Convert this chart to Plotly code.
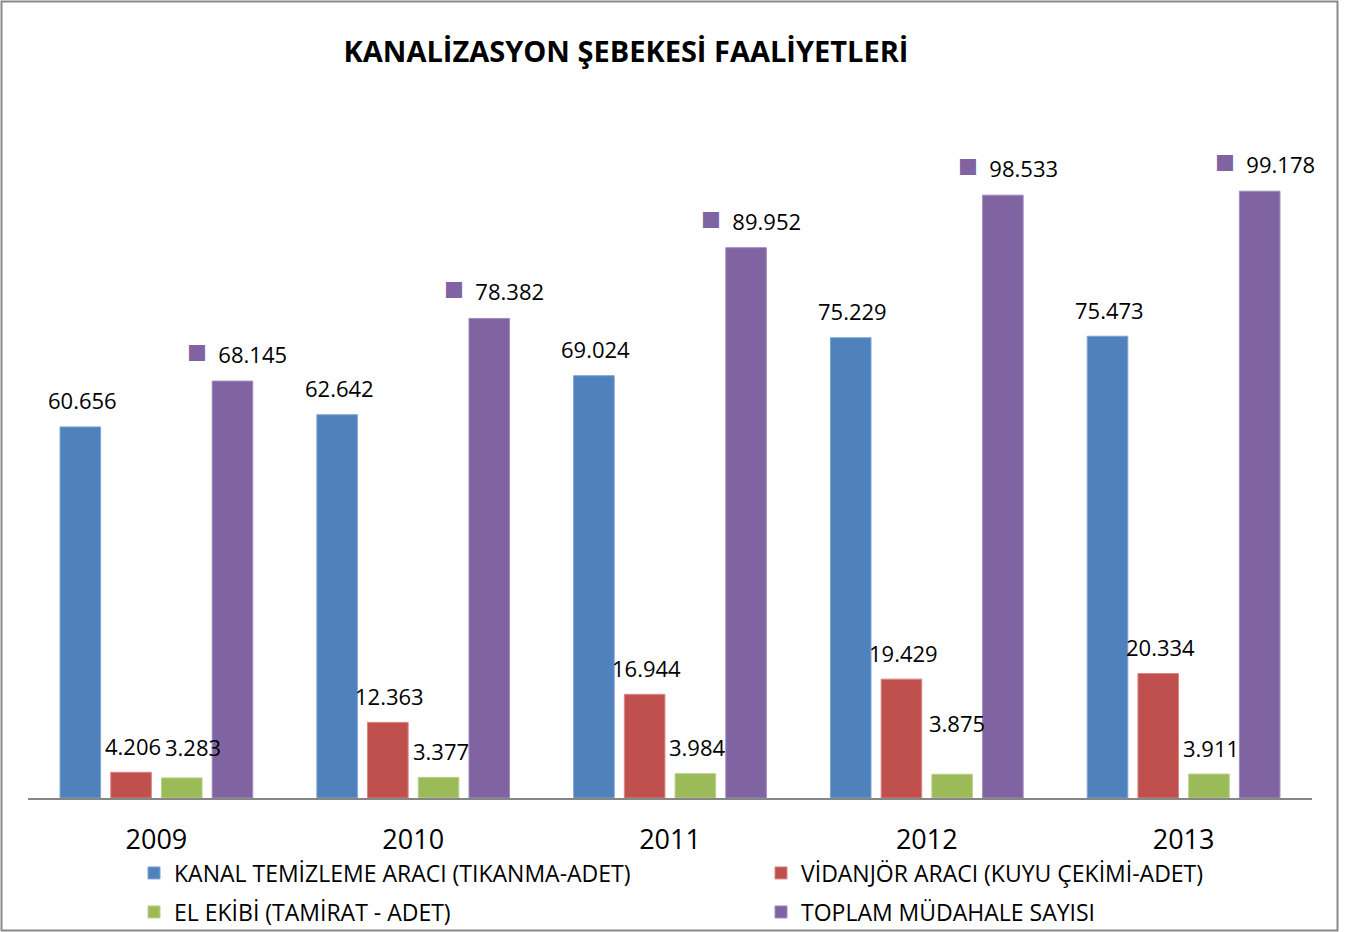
import plotly.graph_objects as go

# ---- data ----
years = ["2009", "2010", "2011", "2012", "2013"]
kanal = [60656, 62642, 69024, 75229, 75473]
vidanjor = [4206, 12363, 16944, 19429, 20334]
el_ekibi = [3283, 3377, 3984, 3875, 3911]
toplam = [68145, 78382, 89952, 98533, 99178]

series_names = [
    "KANAL TEMİZLEME ARACI (TIKANMA-ADET)",
    "VİDANJÖR ARACI (KUYU ÇEKİMİ-ADET)",
    "EL EKİBİ (TAMİRAT - ADET)",
    "TOPLAM MÜDAHALE SAYISI",
]
series_values = [kanal, vidanjor, el_ekibi, toplam]
colors = ["#4F81BD", "#C0504D", "#9BBB59", "#8064A2"]
edge_colors = ["#7FA3D1", "#D98582", "#B9D08E", "#A08BBE"]
legend_ids = ["legend", "legend", "legend2", "legend2"]

W, H = 1351, 932
ML, MR, MT, MB = 28, 39, 125, 134
PW = W - ML - MR
PH = H - MT - MB
YMAX = 110000
BARGAP, GROUPGAP = 0.21, 0.2
FONT = "Open Sans"

def fmt(v):
    return f"{v:,}".replace(",", ".")

fig = go.Figure()
for name, vals, c, ec, lg in zip(series_names, series_values, colors, edge_colors, legend_ids):
    fig.add_trace(go.Bar(
        x=years, y=vals, name=name, legend=lg,
        marker=dict(color=c, line=dict(color=ec, width=1)),
        hoverinfo="y+name",
    ))

# data labels (Excel-like, placed above bars)
cat_w = PW / len(years)
slot = cat_w * (1 - BARGAP) / 4
label_adjust = {(2, 0): (11, 31), (2, 3): (5, 51)}
annotations = []
for si, vals in enumerate(series_values):
    for yi, v in enumerate(vals):
        dx, dy = label_adjust.get((si, yi), (2, 26.5))
        xs = (si - 1.5) * slot + dx
        if si == 3:
            txt = (f'<span style="color:{colors[3]};font-size:33px">■</span>'
                   f'  {fmt(v)}')
            xs += 3
            dy = 30.5
        else:
            txt = fmt(v)
        annotations.append(dict(
            x=yi, y=v, xref="x", yref="y", text=txt, showarrow=False,
            xshift=xs, yshift=dy, xanchor="center", yanchor="middle",
            font=dict(family=FONT, size=22, color="#000000"),
        ))

legend_common = dict(
    orientation="h", xref="container", yref="container",
    xanchor="left", yanchor="middle",
    entrywidth=582, entrywidthmode="pixels",
    font=dict(family=FONT, size=23, color="#000000"),
    bgcolor="rgba(0,0,0,0)", itemclick=False, itemdoubleclick=False,
)

fig.update_layout(
    width=W, height=H,
    margin=dict(l=ML, r=MR, t=MT, b=MB, pad=0, autoexpand=False),
    paper_bgcolor="white", plot_bgcolor="white",
    font=dict(family=FONT, color="#000000"),
    barmode="group", bargap=BARGAP, bargroupgap=GROUPGAP,
    title=dict(
        text="<b>KANALİZASYON ŞEBEKESİ FAALİYETLERİ</b>",
        x=626 / W, xref="container", xanchor="center",
        y=1 - 52 / H, yref="container", yanchor="middle",
        font=dict(family=FONT, size=29, color="#000000"),
    ),
    xaxis=dict(
        type="category", showline=True, linecolor="#868686", linewidth=1.5,
        ticks="", showgrid=False, zeroline=False, automargin=False,
        range=[-0.5, len(years) - 0.5], fixedrange=True,
        tickfont=dict(family=FONT, size=27, color="#000000"),
        ticklabelstandoff=17,
    ),
    yaxis=dict(visible=False, range=[0, YMAX], showgrid=False, zeroline=False,
               automargin=False, fixedrange=True),
    legend=dict(legend_common, x=134 / W, y=1 - 873 / H),
    legend2=dict(legend_common, x=134 / W, y=1 - 912 / H),
    annotations=annotations,
    shapes=[dict(
        type="rect", xref="paper", yref="paper",
        x0=(1.5 - ML) / PW, x1=(1337.5 - ML) / PW,
        y0=(H - MB - 930.5) / PH, y1=(H - MB - 1.5) / PH,
        line=dict(color="#898989", width=2), fillcolor="rgba(0,0,0,0)",
        layer="below",
    )],
    showlegend=True,
)

fig.write_html(
    "out.html",
    config={"displayModeBar": False},
    post_script="document.body.style.margin='0';document.body.style.overflow='hidden';",
)
